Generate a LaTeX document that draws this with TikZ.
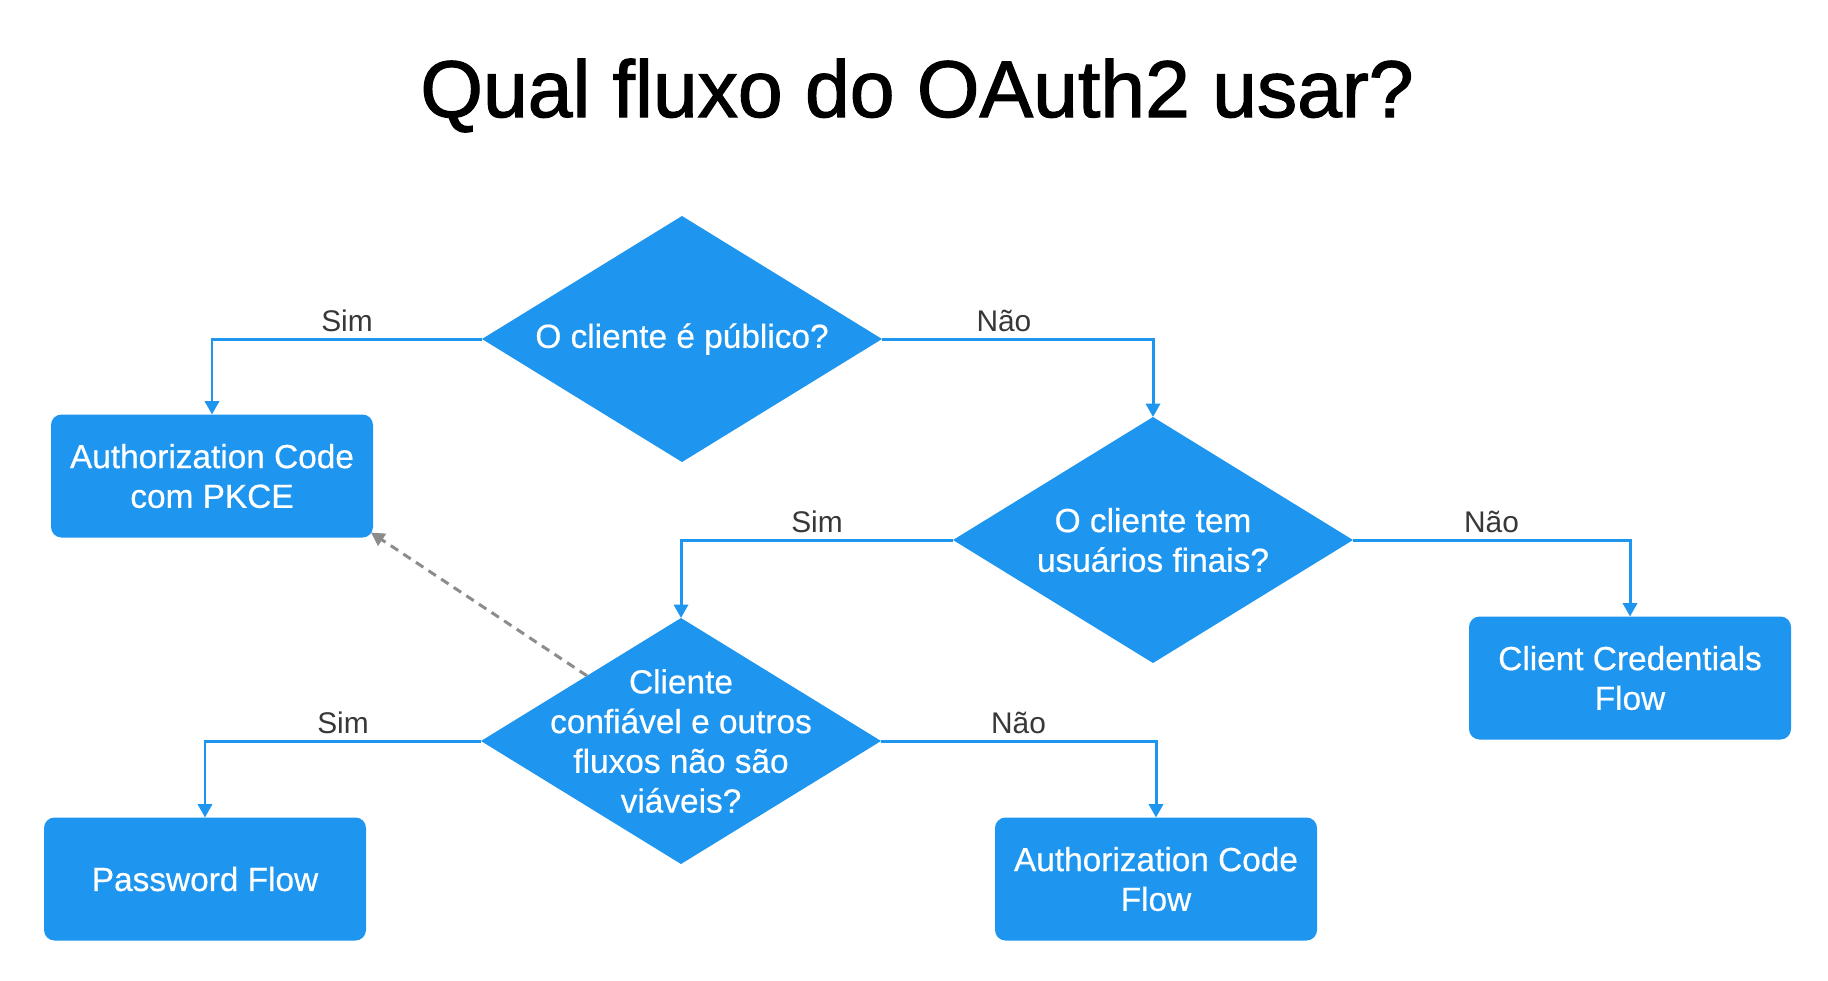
\documentclass[tikz,border=0pt]{standalone}
\usepackage{fontspec}
\setmainfont{Liberation Sans}
\newfontfamily\titlefont[FakeBold=1.5]{Liberation Sans}
\newfontfamily\boxfont[FakeBold=0.5]{Liberation Sans}
\usetikzlibrary{arrows.meta, shapes.geometric, calc}

\definecolor{keyblue}{RGB}{30,150,240}

\begin{document}
\begin{tikzpicture}[
		mybox/.style={
			fill=keyblue,
			rounded corners=3pt,
			minimum width=3.22cm,
			minimum height=1.23cm,
			align=center,
			text=white,
			font=\boxfont\fontsize{9.5}{11.3}\selectfont,
			outer sep=0pt,
		},
		mydiamond/.style={
			diamond,
			fill=keyblue,
			minimum width=4.0cm,
			minimum height=2.46cm,
			inner sep=0pt,
			outer sep=0pt,
		},
		mytext/.style={
			align=center,
			text=white,
			font=\boxfont\fontsize{9.5}{11.3}\selectfont,
		},
		myedge/.style={
			draw=keyblue,
			line width=0.85pt,
			-{Triangle[length=3.8pt, width=4pt]},
		},
		mylabel/.style={
			above,
			inner sep=1.5pt,
			text=black!78,
			font=\fontsize{8.5}{10}\selectfont,
		},
	]

		% Fond
		\fill[white] (0,0) rectangle (18.28,9.80);
		\useasboundingbox (0,0) rectangle (18.28,9.80);

		% Titre
		\node[font=\titlefont\fontsize{22.9}{27}\selectfont, anchor=base] (title) at (9.17,8.63) {Qual fluxo do OAuth2 usar?};

		% Decisoes
		\node[mydiamond] (public) at (6.82,6.41) {};
		\node[mytext] (publictxt) at (public) {O cliente é público?};
		\node[mydiamond] (users) at (11.53,4.40) {};
		\node[mytext] (userstxt) at (users) {O cliente tem\\usuários finais?};
		\node[mydiamond] (trusted) at (6.81,2.39) {};
		\node[mytext] (trustedtxt) at (trusted) {Cliente\\confiável e outros\\fluxos não são\\viáveis?};

		% Fluxos
		\node[mybox] (pkce) at (2.12,5.04) {Authorization Code\\com PKCE};
		\node[mybox] (clientcred) at (16.30,3.02) {Client Credentials\\Flow};
		\node[mybox] (password) at (2.05,1.01) {Password Flow};
		\node[mybox] (authcode) at (11.56,1.01) {Authorization Code\\Flow};

		% Connexions
		\draw[myedge] (public.west) -| (pkce.north) node[mylabel, pos=0.25] {Sim};
		\draw[myedge] (public.east) -| (users.north) node[mylabel, pos=0.225] {Não};
		\draw[myedge] (users.west) -| (trusted.north) node[mylabel, pos=0.25] {Sim};
		\draw[myedge] (users.east) -| (clientcred.north) node[mylabel, pos=0.25] {Não};
		\draw[myedge] (trusted.west) -| (password.north) node[mylabel, pos=0.25] {Sim};
		\draw[myedge] (trusted.east) -| (authcode.north) node[mylabel, pos=0.25] {Não};

		\draw[gray!90, line width=0.85pt, dash pattern=on 2.5pt off 1.8pt,
			-{Triangle[length=3.8pt, width=4pt]}]
			($(trusted.west)!0.53!(trusted.north)$) -- ([shift={(-0.02,0.05)}]pkce.south east);

	\end{tikzpicture}
\end{document}
